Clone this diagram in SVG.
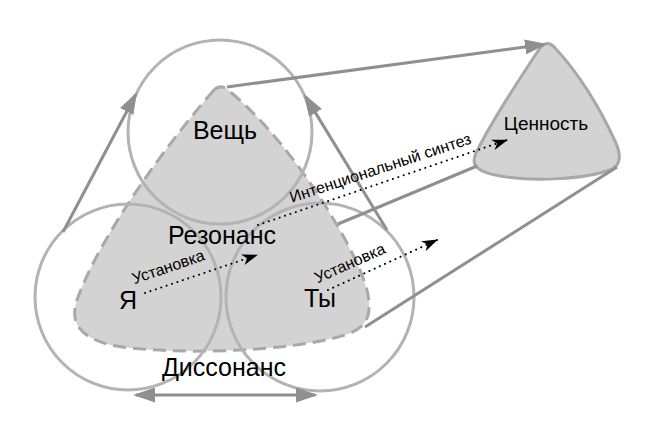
<svg xmlns="http://www.w3.org/2000/svg" width="661" height="436" viewBox="0 0 661 436">
<style>
.circ{fill:none;stroke:#b3b3b3;stroke-width:3}
.area{fill:#d3d3d3;stroke:#a8a8a8;stroke-width:3}
.dash{stroke-dasharray:13 7}
.conn{fill:none;stroke:#8f8f8f;stroke-width:3}
.dot{fill:none;stroke:#000;stroke-width:2;stroke-linecap:round;stroke-dasharray:0.1 5.6}
text{font-family:"Liberation Sans",Arial,Helvetica,sans-serif;fill:#000}
.big{font-size:25px;text-anchor:middle}
.mid{font-size:19px;text-anchor:middle}
.small{font-size:16px;text-anchor:middle}
</style>
<defs>
<marker id="ga" markerUnits="userSpaceOnUse" markerWidth="22" markerHeight="15" refX="19" refY="7.5" orient="auto-start-reverse">
<path d="M0,0 L22,7.5 L0,15 Z" fill="#8f8f8f"/>
</marker>
<marker id="ba" markerUnits="userSpaceOnUse" markerWidth="16" markerHeight="11" refX="15" refY="5.5" orient="auto">
<path d="M0,0 L16,5.5 L0,11 L4.5,5.5 Z" fill="#000"/>
</marker>
</defs>
<rect width="661" height="436" fill="#fff"/>
<g id="resonance">
<path class="area dash" d="M214,90 C170,140 100,235 77,300 C70,322 78,336 110,345 C170,356 290,352 345,335 C370,327 372,312 367,290 C355,245 290,140 228,90 C224,86 218,86 214,90 Z"/>
</g>
<g id="thing"><circle class="circ" cx="220" cy="132" r="92"/></g>
<g id="self"><circle class="circ" cx="128" cy="297" r="93"/></g>
<g id="you"><circle class="circ" cx="320" cy="297" r="94"/></g>
<g id="value">
<path class="area" d="M540,48 C520,78 488,128 476,153 C470,166 478,172 500,176 C535,182 585,179 610,170 C622,165 621,154 615,141 C600,108 578,72 555,48 C550,42 545,42 540,48 Z"/>
<text class="mid" x="546" y="130">Ценность</text>
</g>
<g id="connectors">
<line class="conn" x1="227" y1="87" x2="544" y2="44.4" marker-end="url(#ga)"/>
<line class="conn" x1="63" y1="232" x2="135.6" y2="94.7" marker-end="url(#ga)"/>
<line class="conn" x1="387" y1="230" x2="305.6" y2="96.6" marker-end="url(#ga)"/>
<line class="conn" x1="338" y1="224" x2="477" y2="166"/>
<line class="conn" x1="365" y1="327" x2="617" y2="167"/>
<line class="conn" x1="136" y1="395" x2="315" y2="395" marker-start="url(#ga)" marker-end="url(#ga)"/>
<line class="dot" x1="145" y1="293" x2="257" y2="255" marker-end="url(#ba)"/>
<line class="dot" x1="258" y1="225" x2="507" y2="140" marker-end="url(#ba)"/>
<line class="dot" x1="328" y1="290" x2="437" y2="240" marker-end="url(#ba)"/>
<text class="small" x="170" y="272" transform="rotate(-19 170 272)">Установка</text>
<text class="small" x="352" y="268" transform="rotate(-24 352 268)">Установка</text>
<text class="small" x="382" y="173" transform="rotate(-18.3 382 173)">Интенциональный синтез</text>
</g>
<g id="labels">
<text class="big" x="225" y="139">Вещь</text>
<text class="big" x="222" y="244">Резонанс</text>
<text class="big" x="128" y="309">Я</text>
<text class="big" x="320" y="307">Ты</text>
<text class="big" x="224" y="376">Диссонанс</text>
</g>
</svg>
